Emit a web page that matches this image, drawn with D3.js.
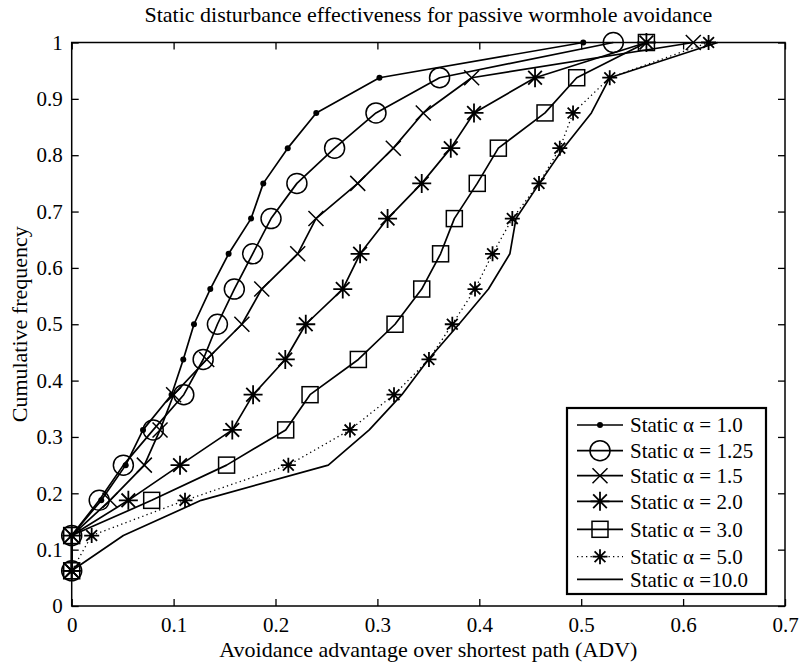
<!DOCTYPE html>
<html>
<head>
<meta charset="utf-8">
<script src="https://cdn.jsdelivr.net/npm/d3@7"></script>
<style>
  html, body { margin: 0; padding: 0; background: #fff; }
  svg { display: block; }
  text { font-family: "Liberation Serif", "Times New Roman", "DejaVu Serif", serif; fill: #000; }
</style>
</head>
<body>
<svg id="chart" width="799" height="664"></svg>
<script>
// ---------- data ----------
const cumFreq = [0.0625, 0.125, 0.1875, 0.25, 0.3125, 0.375, 0.4375, 0.5,
                 0.5625, 0.625, 0.6875, 0.75, 0.8125, 0.875, 0.9375, 1.0];

const seriesNames = ["Static \u03b1 = 1.0", "Static \u03b1 = 1.25", "Static \u03b1 = 1.5",
                     "Static \u03b1 = 2.0", "Static \u03b1 = 3.0", "Static \u03b1 = 5.0",
                     "Static \u03b1 =10.0"];

const advAlpha1_0  = [0, 0, 0.029, 0.053, 0.070, 0.098, 0.1095, 0.120, 0.136, 0.154, 0.176, 0.188, 0.212, 0.240, 0.302, 0.502];
const advAlpha1_25 = [0, 0, 0.027, 0.0507, 0.080, 0.110, 0.129, 0.143, 0.1596, 0.1776, 0.1956, 0.221, 0.258, 0.2986, 0.361, 0.5315];
const advAlpha1_5  = [0, 0, 0.0376, 0.0713, 0.0867, 0.100, 0.1325, 0.167, 0.1865, 0.2218, 0.2397, 0.2807, 0.3156, 0.345, 0.3925, 0.610];
const advAlpha2_0  = [0, 0, 0.0556, 0.1063, 0.1576, 0.178, 0.2096, 0.2297, 0.266, 0.283, 0.310, 0.3435, 0.372, 0.3948, 0.4547, 0.564];
const advAlpha3_0  = [0, 0, 0.0785, 0.152, 0.210, 0.2339, 0.2813, 0.3173, 0.3435, 0.362, 0.3755, 0.398, 0.4187, 0.4645, 0.4956, 0.564];
const advAlpha5_0  = [0, 0.0196, 0.1112, 0.2126, 0.2731, 0.3163, 0.3506, 0.3735, 0.3958, 0.413, 0.4324, 0.4586, 0.479, 0.492, 0.528, 0.625];
const advAlpha10_0 = [0, 0.0507, 0.127, 0.2518, 0.292, 0.324, 0.350, 0.380, 0.409, 0.430, 0.436, 0.459, 0.4825, 0.510, 0.528, 0.634];

const xTicks = [0, 0.1, 0.2, 0.3, 0.4, 0.5, 0.6, 0.7];
const xTickLabels = ["0", "0.1", "0.2", "0.3", "0.4", "0.5", "0.6", "0.7"];
const yTicks = [0, 0.1, 0.2, 0.3, 0.4, 0.5, 0.6, 0.7, 0.8, 0.9, 1];
const yTickLabels = ["0", "0.1", "0.2", "0.3", "0.4", "0.5", "0.6", "0.7", "0.8", "0.9", "1"];

const titleText = "Static disturbance effectiveness for passive wormhole avoidance";
const xLabelText = "Avoidance advantage over shortest path (ADV)";
const yLabelText = "Cumulative frequency";

// ---------- styles (not data) ----------
const FONT = '"Liberation Serif", "Times New Roman", "DejaVu Serif", serif';
const seriesStyle = [
  { values: advAlpha1_0,  marker: "dot",      size: 3,   dash: null },
  { values: advAlpha1_25, marker: "circle",   size: 10,  dash: null },
  { values: advAlpha1_5,  marker: "x",        size: 7.5, dash: null },
  { values: advAlpha2_0,  marker: "asterisk", size: 9.5, dash: null },
  { values: advAlpha3_0,  marker: "square",   size: 8,   dash: null },
  { values: advAlpha5_0,  marker: "asterisk", size: 7.5, dash: "1.3,3.2" },
  { values: advAlpha10_0, marker: "none",     size: 0,   dash: null }
];

// ---------- layout ----------
const plot = { left: 71.7, right: 785, top: 42.5, bottom: 606 };

const svg = d3.select("#chart");
const x = d3.scaleLinear().domain([0, 0.7]).range([plot.left, plot.right]);
const y = d3.scaleLinear().domain([0, 1]).range([plot.bottom, plot.top]);

// axes (ticks inward, mirrored on top/right)
const tickLen = 7;
const fmtX = (d, i) => xTickLabels[i];
const fmtY = (d, i) => yTickLabels[i];

const gBottom = svg.append("g").attr("transform", `translate(0,${plot.bottom})`)
  .call(d3.axisBottom(x).tickValues(xTicks).tickFormat(fmtX).tickSizeInner(-tickLen).tickSizeOuter(0).tickPadding(11));
const gTop = svg.append("g").attr("transform", `translate(0,${plot.top})`)
  .call(d3.axisTop(x).tickValues(xTicks).tickFormat("").tickSizeInner(-tickLen).tickSizeOuter(0));
const gLeft = svg.append("g").attr("transform", `translate(${plot.left},0)`)
  .call(d3.axisLeft(y).tickValues(yTicks).tickFormat(fmtY).tickSizeInner(-tickLen).tickSizeOuter(0).tickPadding(9));
const gRight = svg.append("g").attr("transform", `translate(${plot.right},0)`)
  .call(d3.axisRight(y).tickValues(yTicks).tickFormat("").tickSizeInner(-tickLen).tickSizeOuter(0));

[gBottom, gTop, gLeft, gRight].forEach(g => {
  g.attr("font-family", FONT).attr("font-size", 21);
  g.select(".domain").remove();
  g.selectAll(".tick line").attr("stroke", "#000").attr("stroke-width", 1.3);
  g.selectAll(".tick text").attr("font-family", FONT).style("font-family", FONT)
    .style("font-size", "21px").attr("fill", "#000");
});
gBottom.selectAll(".tick text").attr("dy", "0.71em");

// frame
svg.append("rect")
  .attr("x", plot.left).attr("y", plot.top)
  .attr("width", plot.right - plot.left).attr("height", plot.bottom - plot.top)
  .attr("fill", "none").attr("stroke", "#000").attr("stroke-width", 1.5);

// titles
svg.append("text").attr("x", (plot.left + plot.right) / 2).attr("y", 22)
  .attr("text-anchor", "middle").attr("font-family", FONT).style("font-size", "22px").text(titleText);
svg.append("text").attr("x", (plot.left + plot.right) / 2).attr("y", 657)
  .attr("text-anchor", "middle").attr("font-family", FONT).style("font-size", "22px").text(xLabelText);
svg.append("text").attr("transform", `translate(27,${(plot.top + plot.bottom) / 2}) rotate(-90)`)
  .attr("text-anchor", "middle").attr("font-family", FONT).style("font-size", "22px").text(yLabelText);

// marker drawing
function drawMarker(g, type, cx, cy, s) {
  const apply = sel => sel.attr("stroke", "#000").attr("stroke-width", 1.5).attr("fill", "none");
  if (type === "dot") {
    g.append("circle").attr("cx", cx).attr("cy", cy).attr("r", s).attr("fill", "#000");
  } else if (type === "circle") {
    apply(g.append("circle").attr("cx", cx).attr("cy", cy).attr("r", s));
  } else if (type === "square") {
    apply(g.append("rect").attr("x", cx - s).attr("y", cy - s).attr("width", 2 * s).attr("height", 2 * s));
  } else if (type === "x") {
    apply(g.append("path").attr("d",
      `M${cx - s},${cy - s}L${cx + s},${cy + s}M${cx - s},${cy + s}L${cx + s},${cy - s}`));
  } else if (type === "asterisk") {
    const d = s * 0.72;
    apply(g.append("path").attr("d",
      `M${cx - s},${cy}L${cx + s},${cy}M${cx},${cy - s}L${cx},${cy + s}` +
      `M${cx - d},${cy - d}L${cx + d},${cy + d}M${cx - d},${cy + d}L${cx + d},${cy - d}`))
      .attr("stroke-width", 1.8);
  }
}

// series
const line = d3.line().x(d => x(d[0])).y(d => y(d[1]));
const gSeries = svg.append("g");
seriesStyle.forEach((s) => {
  const pts = s.values.map((v, i) => [v, cumFreq[i]]);
  const p = gSeries.append("path").attr("d", line(pts))
    .attr("fill", "none").attr("stroke", "#000")
    .attr("stroke-width", s.dash ? 1.3 : 1.7).attr("stroke-linejoin", "round");
  if (s.dash) p.attr("stroke-dasharray", s.dash);
  if (s.marker !== "none") {
    const gm = gSeries.append("g");
    pts.forEach(pt => drawMarker(gm, s.marker, x(pt[0]), y(pt[1]), s.size));
  }
});

// legend
const leg = { left: 567, top: 408, right: 766, bottom: 594 };
const legRowsY = [425, 450.7, 475.7, 501.3, 529.3, 556.7, 579.3];
const gLeg = svg.append("g");
gLeg.append("rect").attr("x", leg.left).attr("y", leg.top)
  .attr("width", leg.right - leg.left).attr("height", leg.bottom - leg.top)
  .attr("fill", "#fff").attr("stroke", "#000").attr("stroke-width", 2.2);
seriesStyle.forEach((s, i) => {
  const ly = legRowsY[i];
  const ln = gLeg.append("line").attr("x1", 577).attr("x2", 623).attr("y1", ly).attr("y2", ly)
    .attr("stroke", "#000").attr("stroke-width", s.dash ? 1.3 : 1.7);
  if (s.dash) ln.attr("stroke-dasharray", s.dash);
  if (s.marker !== "none") drawMarker(gLeg, s.marker, 600, ly, s.size);
  gLeg.append("text").attr("x", 630).attr("y", ly).attr("dy", "0.35em")
    .attr("font-family", FONT).style("font-size", "21px").text(seriesNames[i]);
});
</script>
</body>
</html>
